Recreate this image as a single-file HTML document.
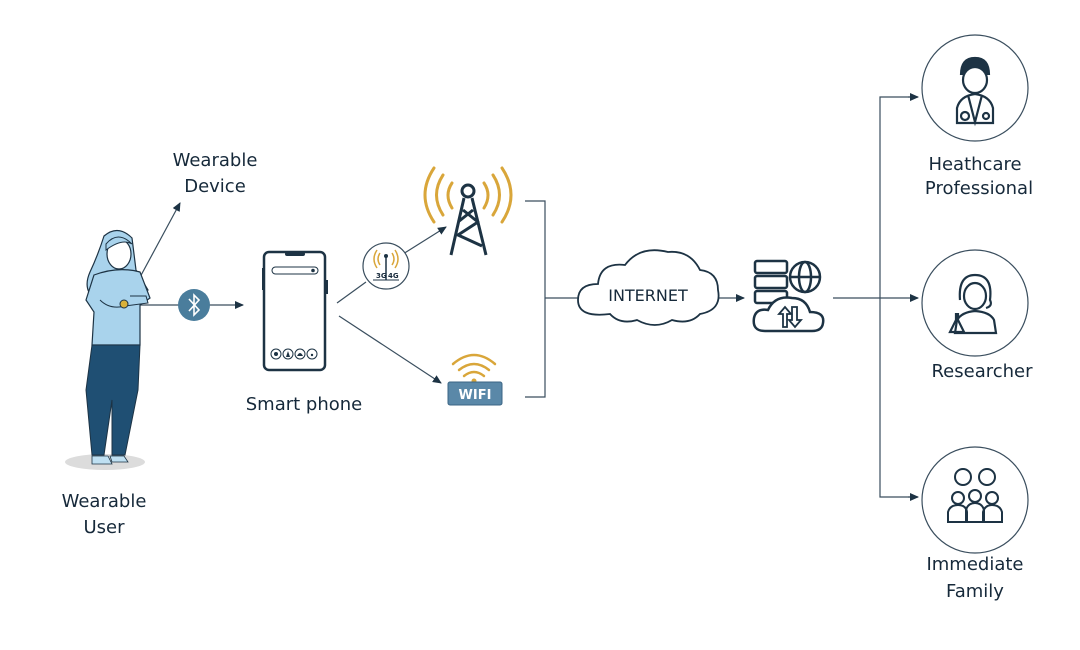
<!DOCTYPE html>
<html><head><meta charset="utf-8"><style>
html,body{margin:0;padding:0;background:#fff;}
svg{display:block;}
text{font-family:"DejaVu Sans","Liberation Sans",sans-serif;fill:#16293a;}
</style></head><body>
<svg width="1080" height="650" viewBox="0 0 1080 650" xmlns="http://www.w3.org/2000/svg">
<defs>
<marker id="ar" markerWidth="10" markerHeight="10" refX="8" refY="5" orient="auto" markerUnits="userSpaceOnUse">
<path d="M0,1 L9,5 L0,9 z" fill="#1d3344"/></marker>
</defs>
<g stroke="#3a4e5e" stroke-width="1.2" fill="none">
<line x1="125" y1="305" x2="180" y2="203" marker-end="url(#ar)"/>
<line x1="128" y1="305" x2="243" y2="305" marker-end="url(#ar)"/>
<line x1="337" y1="303" x2="366" y2="282"/>
<line x1="403" y1="254" x2="446" y2="227" marker-end="url(#ar)"/>
<line x1="339" y1="316" x2="441" y2="383" marker-end="url(#ar)"/>
<polyline points="525,201 545,201 545,397 525,397"/>
<line x1="545" y1="298" x2="578" y2="298"/>
<line x1="718" y1="298" x2="744" y2="298" marker-end="url(#ar)"/>
<line x1="833" y1="298" x2="918" y2="298" marker-end="url(#ar)"/>
<polyline points="880,298 880,97 918,97" />
<polyline points="880,298 880,497 918,497" />
</g>
<line x1="908" y1="97" x2="918" y2="97" stroke="#1d3344" marker-end="url(#ar)"/>
<line x1="908" y1="497" x2="918" y2="497" stroke="#1d3344" marker-end="url(#ar)"/>

<!-- person -->
<ellipse cx="105" cy="462" rx="40" ry="8" fill="#dcdcdc"/>
<path d="M104,236 Q118,224 132,238 L136,270 L148,290 L128,300 L96,300 Q82,290 90,272 Q98,255 104,236z" fill="#a9d3ec" stroke="#1d3344" stroke-width="1.2"/>
<ellipse cx="119" cy="254" rx="12" ry="15" fill="#fff" stroke="#1d3344" stroke-width="1.2"/>
<path d="M106,244 Q118,230 132,244 Q122,238 106,250z" fill="#a9d3ec" stroke="#1d3344" stroke-width="1"/>
<path d="M94,275 Q118,266 140,272 L150,298 L140,305 L140,345 L92,345 L94,312 L86,300z" fill="#a9d3ec" stroke="#1d3344" stroke-width="1.2"/>
<path d="M100,300 Q110,310 125,306 L148,303 L146,296 L130,296" fill="#a9d3ec" stroke="#1d3344" stroke-width="1"/>
<path d="M92,345 L140,345 L138,390 L125,455 L112,455 L112,400 L104,455 L92,455 L86,390z" fill="#1f4f73" stroke="#1d3344" stroke-width="1"/>
<path d="M92,456 L108,456 L112,464 L92,464z M110,456 L124,456 L128,462 L112,462z" fill="#bfe0f2" stroke="#1d3344" stroke-width="0.8"/>
<circle cx="124" cy="304" r="4" fill="#d9b13a" stroke="#1d3344"/>
<!-- bluetooth -->
<circle cx="194" cy="305" r="16" fill="#4a7d9c"/>
<path d="M189,299 L199,310 L194,315 L194,295 L199,300 L189,311" stroke="#fff" stroke-width="1.6" fill="none"/>
<!-- phone -->
<rect x="264" y="252" width="61" height="118" rx="5" fill="#fff" stroke="#1d3344" stroke-width="2.5"/>
<rect x="262" y="268" width="3" height="22" fill="#1d3344"/>
<rect x="325" y="280" width="3" height="14" fill="#1d3344"/>
<rect x="285" y="252" width="20" height="4" rx="2" fill="#1d3344"/>
<rect x="272" y="267" width="46" height="7" rx="3.5" fill="none" stroke="#1d3344" stroke-width="1"/>
<circle cx="313" cy="270.5" r="1.8" fill="#1d3344"/>
<g fill="none" stroke="#1d3344" stroke-width="1"><circle cx="276" cy="354" r="5"/><circle cx="288" cy="354" r="5"/><circle cx="300" cy="354" r="5"/><circle cx="312" cy="354" r="5"/></g>
<g fill="#1d3344"><circle cx="276" cy="354" r="2"/><path d="M286,357 L288,351 L290,357z"/><path d="M297,356 Q300,350 303,356z"/><circle cx="312" cy="355" r="1.2"/></g>
<!-- 3g4g -->
<circle cx="386" cy="266" r="23" fill="#fff" stroke="#3a4e5e" stroke-width="1.2"/>
<g fill="none" stroke="#d9a63a" stroke-width="1.5"><path d="M380,253 Q376,259 380,265"/><path d="M392,253 Q396,259 392,265"/><path d="M377,250 Q371,259 377,268"/><path d="M395,250 Q401,259 395,268"/></g>
<line x1="386" y1="256" x2="386" y2="280" stroke="#1d3344" stroke-width="1.5"/>
<circle cx="386" cy="256" r="2" fill="#1d3344"/>
<text x="376" y="278" font-size="7" font-weight="bold">3G</text><text x="388" y="278" font-size="7" font-weight="bold">4G</text>
<line x1="373" y1="280" x2="399" y2="280" stroke="#1d3344"/>
<!-- tower -->
<g fill="none" stroke="#d9a63a" stroke-width="3" stroke-linecap="round">
<path d="M452,183 Q444,195 452,208"/><path d="M484,183 Q492,195 484,208"/>
<path d="M443,175 Q430,195 443,215"/><path d="M493,175 Q506,195 493,215"/>
<path d="M434,168 Q416,195 434,222"/><path d="M502,168 Q520,195 502,222"/></g>
<g fill="none" stroke="#1d3344" stroke-width="3" stroke-linejoin="round">
<circle cx="468" cy="191" r="6"/>
<path d="M464,198 L451,255 M472,198 L486,255 M463,210 L478,222 L458,235 L482,246 M473,210 L458,222"/></g>
<!-- wifi -->
<g fill="none" stroke="#d9a63a" stroke-width="2.5" stroke-linecap="round">
<path d="M459,370 Q474,358 489,370"/><path d="M464,376 Q474,368 484,376"/><path d="M453,364 Q474,346 495,364"/></g>
<circle cx="474" cy="381" r="2.5" fill="#d9a63a"/>
<rect x="448" y="382" width="54" height="23" rx="2" fill="#5a88a8" stroke="#3b6584"/>
<text x="475" y="399" font-size="13" font-weight="bold" text-anchor="middle" style="fill:#fff">WIFI</text>
<!-- cloud -->
<path d="M598,284 Q600,262 625,265 Q640,245 668,252 Q690,250 700,270 Q718,272 718,290 Q722,310 700,314 Q690,325 672,320 Q655,330 637,320 Q620,325 610,314 Q578,318 578,300 Q578,284 598,284z" fill="#fff" stroke="#1d3344" stroke-width="1.8"/>
<text x="648" y="301" font-size="16" text-anchor="middle">INTERNET</text>
<!-- server -->
<g fill="none" stroke="#1d3344" stroke-width="2.5">
<rect x="755" y="261" width="32" height="12" rx="2"/><rect x="755" y="276" width="32" height="12" rx="2"/><rect x="755" y="291" width="32" height="12" rx="2"/>
<circle cx="805" cy="277" r="15"/><ellipse cx="805" cy="277" rx="6" ry="15"/><line x1="790" y1="277" x2="820" y2="277"/>
<path d="M765,331 Q752,331 754,318 Q756,308 768,310 Q775,295 792,298 Q806,298 810,312 Q825,312 823,323 Q822,331 812,331z" fill="#fff"/>
</g>
<g stroke="#1d3344" stroke-width="1.8" fill="none"><path d="M783,327 L783,314 L779,314 L785,307 L791,314 L787,314 L787,327z"/><path d="M792,307 L792,320 L789,320 L795,327 L801,320 L797,320 L797,307z"/></g>
<!-- right circles -->
<g fill="#fff" stroke="#3a4e5e" stroke-width="1.2"><circle cx="975" cy="88" r="53"/><circle cx="975" cy="303" r="53"/><circle cx="975" cy="500" r="53"/></g>
<g fill="none" stroke="#1d3344" stroke-width="2.2">
<path d="M961,75 Q961,58 975,58 Q989,58 989,75" fill="#1d3344"/>
<ellipse cx="975" cy="80" rx="12" ry="13" fill="#fff"/>
<path d="M957,123 L957,108 Q960,96 975,94 Q990,96 993,108 L993,123z"/>
<path d="M968,95 L975,122 L982,95"/><circle cx="965" cy="116" r="4"/><circle cx="986" cy="116" r="3"/></g>
<path d="M963,72 Q975,62 987,72 L987,68 Q975,56 963,68z" fill="#1d3344"/>
<g fill="none" stroke="#1d3344" stroke-width="2.2">
<path d="M960,300 Q958,275 975,275 Q993,275 990,300 Q993,306 986,308"/>
<ellipse cx="975" cy="296" rx="11" ry="13"/>
<path d="M955,333 L957,320 Q962,312 975,311 Q990,312 994,320 L996,333z"/>
<path d="M956,313 L956,320 L950,332 L964,332 L958,320 L958,313"/></g>
<g fill="none" stroke="#1d3344" stroke-width="2">
<circle cx="963" cy="477" r="8"/><circle cx="987" cy="477" r="8"/>
<circle cx="958" cy="498" r="6"/><circle cx="975" cy="496" r="6"/><circle cx="992" cy="498" r="6"/>
<path d="M948,522 L948,512 Q950,505 958,505 Q966,505 967,512 L967,522z"/>
<path d="M966,522 L966,510 Q968,503 975,503 Q982,503 984,510 L984,522z"/>
<path d="M983,522 L983,512 Q985,505 992,505 Q1000,505 1002,512 L1002,522z"/></g>
<g font-size="18">
<text x="215" y="166" text-anchor="middle">Wearable</text>
<text x="215" y="192" text-anchor="middle">Device</text>
<text x="304" y="410" text-anchor="middle">Smart phone</text>
<text x="104" y="507" text-anchor="middle">Wearable</text>
<text x="104" y="533" text-anchor="middle">User</text>
<text x="975" y="170" text-anchor="middle">Heathcare</text>
<text x="979" y="194" text-anchor="middle">Professional</text>
<text x="982" y="377" text-anchor="middle">Researcher</text>
<text x="975" y="570" text-anchor="middle">Immediate</text>
<text x="975" y="597" text-anchor="middle">Family</text>
</g>
</svg>
</body></html>
